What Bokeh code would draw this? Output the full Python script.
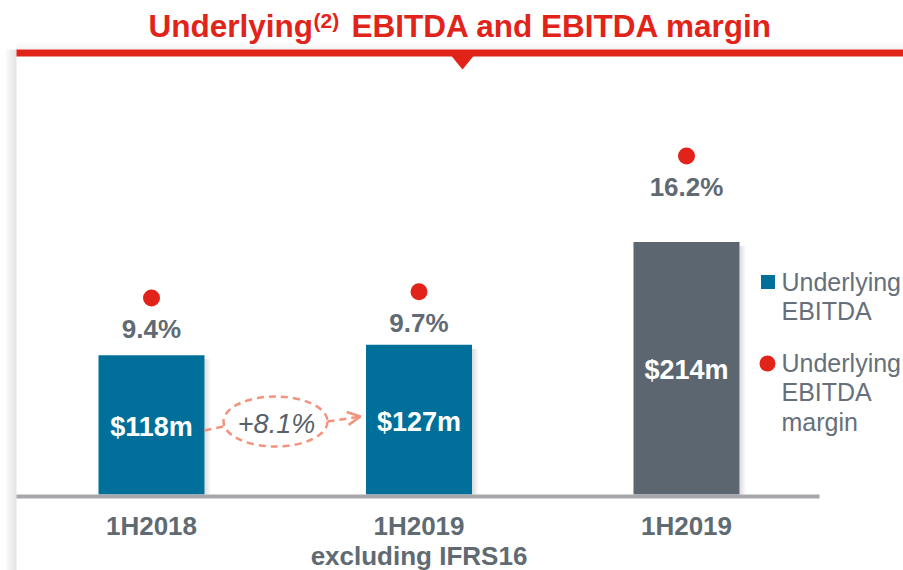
from bokeh.plotting import figure
from bokeh.models import Range1d, Arrow, OpenHead, ColumnDataSource
from bokeh.core.properties import value
from bokeh.embed import file_html
from bokeh.resources import INLINE

# ---------------- data ----------------
periods = ["1H2018", "1H2019 excl. IFRS16", "1H2019"]
tick_labels = ["1H2018", "1H2019\nexcluding IFRS16", "1H2019"]
ebitda = [118, 127, 214]          # Underlying EBITDA, $m
margin = [9.4, 9.7, 16.2]         # Underlying EBITDA margin, %
bar_colors = ["#00709a", "#00709a", "#5c6670"]
growth_label = "+8.1%"
title_main = "Underlying"
title_sup = "(2)"
title_rest = "EBITDA and EBITDA margin"
legend_labels = ["Underlying\nEBITDA", "Underlying\nEBITDA\nmargin"]

# ---------------- layout constants ----------------
W, H = 903, 570
OX, OY = 0, 0
X0, DX = 151.0, 267.5          # page x of first category centre, px per category
BASE, SY, SM = 494.0, 1.18, 20.9  # baseline page y, px per $m, px per %
BW = 106 / DX

RED = "#e2231a"
GREY_TXT = "#5f6a72"
SALMON = "#f3937b"
FONT = value("Liberation Sans")


def px(x):
    return (x - X0) / DX


def py(y):
    return (BASE - y) / SY


p = figure(width=W, height=H, output_backend="svg", toolbar_location=None,
           x_range=Range1d(px(OX), px(OX + W)), y_range=Range1d(py(OY + H), py(OY)),
           x_axis_location=None, y_axis_location=None, min_border=0,
           outline_line_color=None, background_fill_color="white",
           border_fill_color="white")
p.grid.visible = False
p.extra_y_ranges = {"margin": Range1d((BASE - (OY + H)) / SM, (BASE - OY) / SM)}

# ---------------- panel decoration ----------------
for i in range(12):
    p.quad(left=px(4 + i), right=px(5 + i), top=py(49), bottom=py(OY + H),
           fill_color="#808080", fill_alpha=0.01 + 0.02 * i, line_color=None)
for i in range(9):
    p.quad(left=px(16), right=px(OX + W), top=py(40 + i), bottom=py(41 + i),
           fill_color="#808080", fill_alpha=0.012 * i, line_color=None)
p.quad(left=px(16), right=px(OX + W), top=py(49), bottom=py(56),
       fill_color=RED, line_color=None)
p.patch([px(451), px(473), px(462)], [py(55.5), py(55.5), py(69)],
        fill_color=RED, line_color=None)

# ---------------- title ----------------
p.text(x=[px(312.5)], y=[py(25)], text=[title_main], text_font=FONT,
       text_font_size="31.5px", text_font_style="bold", text_color=RED,
       text_align="right", text_baseline="middle")
p.text(x=[px(313)], y=[py(20)], text=[title_sup], text_font=FONT,
       text_font_size="21px", text_font_style="bold", text_color=RED,
       text_align="left", text_baseline="middle")
p.text(x=[px(351)], y=[py(25)], text=[title_rest], text_font=FONT,
       text_font_size="31.5px", text_font_style="bold", text_color=RED,
       text_align="left", text_baseline="middle")

# ---------------- bars ----------------
xs = list(range(len(ebitda)))
src = ColumnDataSource(dict(
    x=xs, top=ebitda, color=bar_colors,
    half=[v / 2 for v in ebitda],
    lab=[f"${v}m" for v in ebitda],
    m=margin, mlab=[f"{v:.1f}%" for v in margin],
    tick=tick_labels,
))

# soft shadows to the right of each bar
for k in range(6):
    p.quad(left=[x + BW / 2 + k / DX for x in xs],
           right=[x + BW / 2 + (k + 1) / DX for x in xs],
           top=[v - 4 / SY for v in ebitda], bottom=0,
           fill_color="#606060", fill_alpha=0.22 - 0.035 * k, line_color=None)

p.vbar(x="x", top="top", bottom=0, width=BW, fill_color="color",
       line_color=None, source=src)

# baseline
p.line([px(16), px(819)], [py(496), py(496)], line_color="#a5a7aa", line_width=4)

p.text(x="x", y="half", text="lab", source=src, text_font=FONT,
       text_font_size="27px", text_font_style="bold", text_color="white",
       text_align="center", text_baseline="middle", y_offset=2)

# ---------------- margin dots ----------------
p.scatter(x="x", y="m", source=src, y_range_name="margin", marker="circle",
          size=17, fill_color=RED, line_color=None)
p.text(x="x", y="m", text="mlab", source=src, y_range_name="margin",
       text_font=FONT, text_font_size="26px", text_font_style="bold",
       text_color=GREY_TXT, text_align="center", text_baseline="middle",
       y_offset=31)

# ---------------- category labels ----------------
p.text(x="x", y=py(510), text="tick", source=src, text_font=FONT,
       text_font_size="26px", text_font_style="bold", text_color=GREY_TXT,
       text_align="center", text_baseline="top", text_line_height=1.0)

# ---------------- growth annotation ----------------
p.line([px(204), px(223)], [py(430), py(426)], line_color=SALMON,
       line_width=2.5, line_dash="7 5")
p.ellipse(x=[px(275)], y=[py(421)], width=104, height=50,
          width_units="screen", height_units="screen",
          fill_color=None, line_color=SALMON, line_width=2.5, line_dash="7 5")
p.text(x=[px(276)], y=[py(423)], text=[growth_label], text_font=FONT,
       text_font_size="27px", text_font_style="italic", text_color="#56616a",
       text_align="center", text_baseline="middle")
p.add_layout(Arrow(end=OpenHead(size=13, line_color=SALMON, line_width=2.5),
                   x_start=px(327), y_start=py(421), x_end=px(360), y_end=py(416),
                   line_color=SALMON, line_width=2.5, line_dash="7 5"))

# ---------------- legend ----------------
p.scatter(x=[px(767.5)], y=[py(281.5)], marker="square", size=14,
          fill_color=bar_colors[0], line_color=None)
p.scatter(x=[px(767)], y=[py(363)], marker="circle", size=16,
          fill_color=RED, line_color=None)
p.text(x=[px(781), px(781)], y=[py(296), py(392)], text=legend_labels,
       text_font=FONT, text_font_size="25px", text_color="#66707a",
       text_align="left", text_baseline="middle", text_line_height=1.06)

open("out.html", "w").write(file_html(p, INLINE))
